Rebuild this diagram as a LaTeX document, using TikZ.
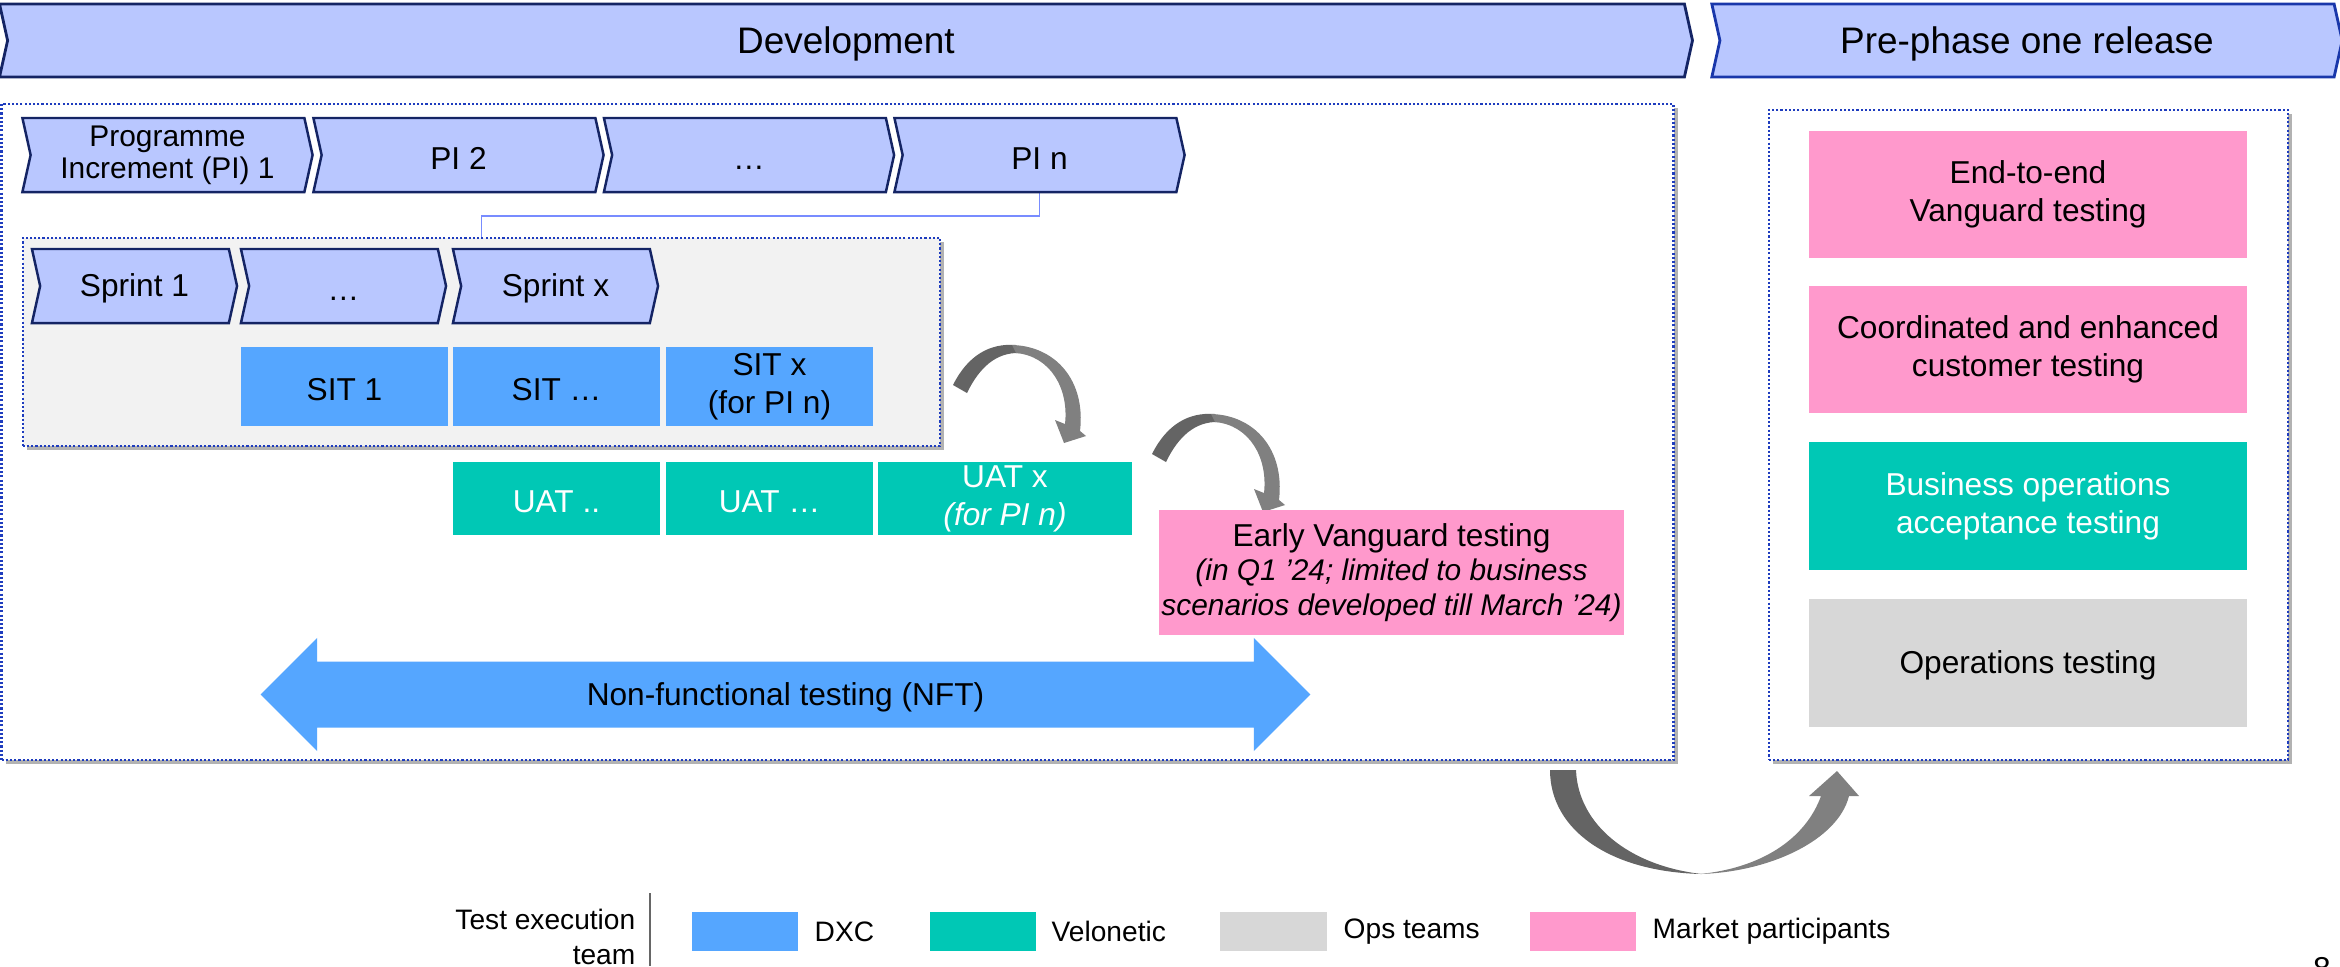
\documentclass[tikz,border=0pt]{standalone}
\usepackage{fontspec}
\setmainfont{Liberation Sans}
\usepackage{tikz}
\usetikzlibrary{shapes.symbols,shapes.arrows,shadows}
\definecolor{chevfill}{RGB}{185,199,255}
\definecolor{chevline}{RGB}{20,36,100}
\definecolor{preline}{RGB}{25,55,170}
\definecolor{dxc}{RGB}{85,166,255}
\definecolor{velo}{RGB}{0,200,181}
\definecolor{opsgrey}{RGB}{215,215,215}
\definecolor{mpink}{RGB}{255,153,204}
\definecolor{dotline}{RGB}{30,60,190}
\definecolor{linkline}{RGB}{120,140,255}
\definecolor{darrow}{RGB}{100,100,100}
\definecolor{larrow}{RGB}{128,128,128}
\pgfdeclarelayer{boxlayer}
\pgfdeclarelayer{nodelayer}
\pgfsetlayers{boxlayer,main,nodelayer}
\tikzstyle{phase}=[signal,signal from=west,signal to=east,signal pointer angle=155,fill=chevfill,draw=chevline,line width=0.8pt,inner sep=0pt,align=center,font=\fontsize{10.5}{12.6}\selectfont,execute at begin node={\rule{0pt}{0.9em}}]
\tikzstyle{incr}=[phase,line width=0.7pt,minimum width=2.90cm,minimum height=0.74cm,font=\fontsize{9}{10.8}\selectfont]
\tikzstyle{sprint}=[phase,line width=0.7pt,minimum width=2.05cm,minimum height=0.74cm,font=\fontsize{9}{10.8}\selectfont]
\tikzstyle{frame}=[rectangle,draw=dotline,dash pattern=on 0.6pt off 0.6pt,line width=0.6pt,fill=white,inner sep=0pt,drop shadow={shadow xshift=0.04cm,shadow yshift=-0.04cm,fill=black,opacity=0.3}]
\tikzstyle{task}=[rectangle,inner sep=0pt,align=center,font=\fontsize{9}{10.8}\selectfont,execute at begin node={\rule{0pt}{0.9em}}]
\tikzstyle{sit}=[task,fill=dxc,minimum width=2.07cm,minimum height=0.79cm]
\tikzstyle{uat}=[task,fill=velo,text=white,minimum width=2.07cm,minimum height=0.73cm]
\tikzstyle{release}=[task,minimum width=4.38cm,minimum height=1.27cm]
\tikzstyle{nft}=[double arrow,fill=dxc,inner sep=0pt,minimum height=10.49cm,minimum width=1.13cm,double arrow head extend=0.13cm,double arrow tip angle=90,font=\fontsize{9}{10.8}\selectfont,execute at begin node={\rule{0pt}{0.9em}}]
\tikzstyle{link}=[-,draw=linkline,line width=0.5pt]
\tikzstyle{swatch}=[rectangle,minimum width=1.06cm,minimum height=0.39cm,inner sep=0pt]
\tikzstyle{key}=[anchor=west,inner sep=0pt,font=\fontsize{8}{9.6}\selectfont]

\begin{document}
\begin{tikzpicture}[x=0.01cm,y=-0.01cm]
	\useasboundingbox (0,0) rectangle (2340,966);
	\begin{pgfonlayer}{boxlayer}
		\node [style=frame, minimum width=16.71cm, minimum height=6.56cm] (devbox) at (837.5,432) {};
		\node [style=frame, minimum width=5.19cm, minimum height=6.50cm] (relbox) at (2028.5,435) {};
		\node [style=frame, fill=black!5, minimum width=9.17cm, minimum height=2.08cm] (sprintbox) at (481.5,342) {};
	\end{pgfonlayer}
	\begin{pgfonlayer}{nodelayer}
		\node [style=phase, minimum width=16.92cm, minimum height=0.73cm] (dev) at (846,40.5) {Development};
		\node [style=phase, draw=preline, minimum width=6.30cm, minimum height=0.73cm] (pre) at (2027,40.5) {Pre-phase one release};

		\node [style=incr, font=\fontsize{8.5}{9.2}\selectfont] (PI1) at (167.5,155) {Programme\\Increment (PI) 1};
		\node [style=incr] (PI2) at (458.5,155) {PI 2};
		\node [style=incr] (PIdots) at (749,155) {…};
		\node [style=incr] (PIn) at (1039.5,155) {PI n};

		\node [style=sprint] (S1) at (134.5,286) {Sprint 1};
		\node [style=sprint] (Sdots) at (343.5,286) {…};
		\node [style=sprint] (Sx) at (555.5,286) {Sprint x};

		\node [style=sit] (SIT1) at (344.5,386.5) {SIT 1};
		\node [style=sit] (SITdots) at (556.5,386.5) {SIT …};
		\node [style=sit] (SITx) at (769.5,386.5) {SIT x\\(for PI n)};

		\node [style=uat] (UAT1) at (556.5,498.5) {UAT ..};
		\node [style=uat] (UATdots) at (769.5,498.5) {UAT …};
		\node [style=uat, minimum width=2.54cm] (UATx) at (1005,498.5) {UAT x\\\textit{(for PI n)}};

		\node [style=task, fill=mpink, minimum width=4.65cm, minimum height=1.25cm] (early) at (1391.5,572.5) {Early Vanguard testing\\[-1pt]{\fontsize{8.5}{10.2}\selectfont\itshape (in Q1 '24; limited to business}\\[-1pt]{\fontsize{8.5}{10.2}\selectfont\itshape scenarios developed till March '24)}};
		\node [style=nft] (nft) at (785.5,694.5) {Non-functional testing (NFT)};

		\node [style=release, fill=mpink] (e2e) at (2028,194.5) {End-to-end\\Vanguard testing};
		\node [style=release, fill=mpink] (cust) at (2028,349.5) {Coordinated and enhanced\\customer testing};
		\node [style=release, fill=velo, text=white] (bizops) at (2028,506) {Business operations\\acceptance testing};
		\node [style=release, fill=opsgrey] (ops) at (2028,663) {Operations testing};

		\node [style=key, anchor=east, align=right, font=\fontsize{8}{10}\selectfont] (team) at (636,937) {Test execution\\team};
		\node [style=swatch, fill=dxc] (kDXC) at (745,931.5) {};
		\node [style=key] at (814,931.5) {DXC};
		\node [style=swatch, fill=velo] (kvelo) at (983,931.5) {};
		\node [style=key] at (1051,931.5) {Velonetic};
		\node [style=swatch, fill=opsgrey] (kops) at (1273.5,931.5) {};
		\node [style=key] at (1343,931.5) {Ops teams};
		\node [style=swatch, fill=mpink] (kmp) at (1583,931.5) {};
		\node [style=key] at (1652,931.5) {Market participants};
		\node [anchor=north, inner sep=0pt, font=\fontsize{9}{10}\selectfont] (pagenum) at (2322,957) {8};
	\end{pgfonlayer}

	\draw [style=link] (PIn.south) -- ++(0,23) -| (sprintbox.north);
	\draw [black!60, line width=0.5pt] (650,893) -- (650,966);

	% curved hand-over arrows
	\foreach \dx/\dy in {0/0,199/69}{
		\begin{scope}[shift={(\dx,\dy)}]
			\fill [darrow] (953,385) .. controls (968,355) and (990,343) .. (1016,345) -- (1020,353) .. controls (996,352) and (979,368) .. (967,393) -- cycle;
			\fill [larrow] (1012,345) .. controls (1055,346) and (1086,380) .. (1080,431) -- (1086,436) -- (1064,443) -- (1055,420) -- (1065,424) .. controls (1069,388) and (1050,356) .. (1016,353) -- cycle;
		\end{scope}
	}
	\fill [darrow] (1550,770) -- (1576,770) .. controls (1578,825) and (1630,866) .. (1702,874) .. controls (1610,872) and (1550,830) .. (1550,770) -- cycle;
	\fill [larrow] (1700,874) .. controls (1770,872) and (1838,840) .. (1849,796) -- (1859,796) -- (1837,771) -- (1809,796) -- (1821,796) .. controls (1805,840) and (1760,868) .. (1700,874) -- cycle;
\end{tikzpicture}
\end{document}
